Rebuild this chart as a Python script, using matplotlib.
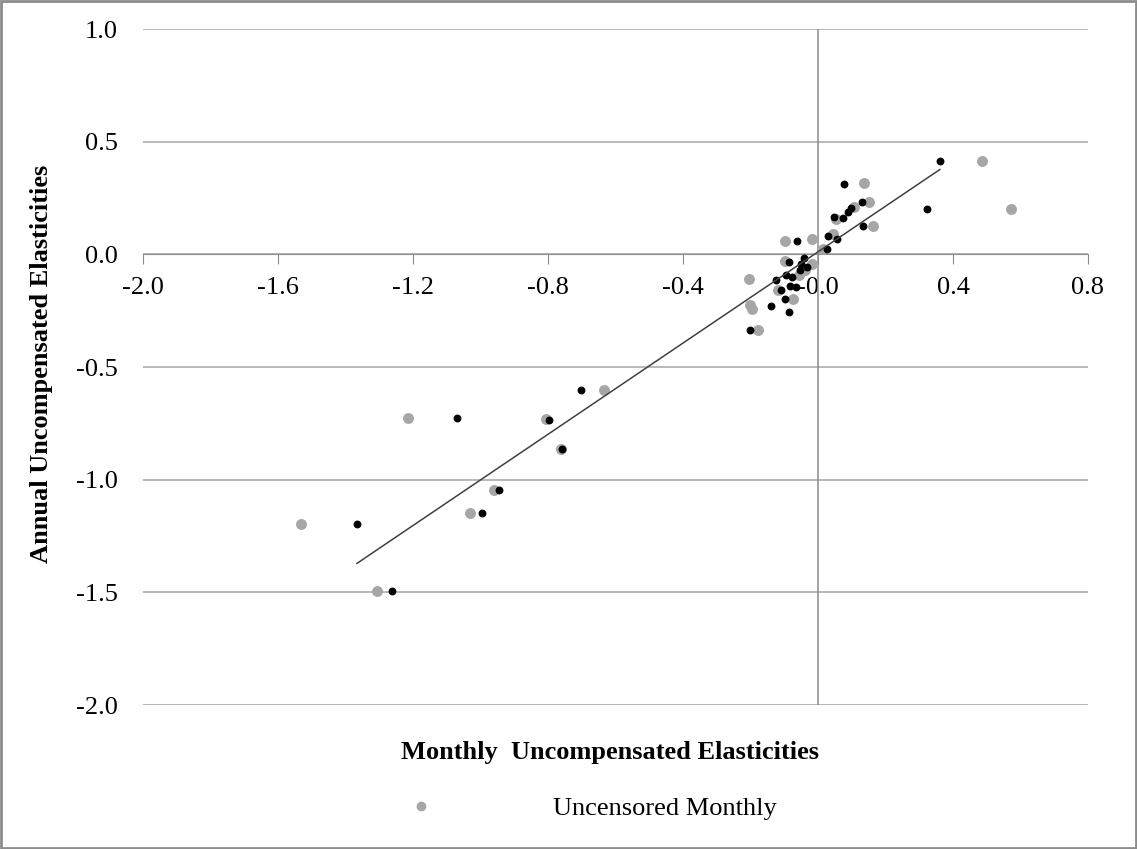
import numpy as np
import matplotlib
matplotlib.use("Agg")
import matplotlib.pyplot as plt
from matplotlib.patches import Rectangle

# censored monthly vs annual (black)
black_x = [0.361, 0.322, 0.077, 0.129, 0.097, 0.090, 0.073, 0.046, 0.132, 0.031,
           0.057, -0.061, 0.026, -0.041, -0.087, -0.050, -0.033, -0.053, -0.078,
           -0.095, -0.124, -0.083, -0.065, -0.110, -0.098, -0.139, -0.087, -0.201,
           -0.701, -1.070, -0.796, -0.759, -0.945, -0.995, -1.366, -1.263]
black_y = [0.414, 0.200, 0.314, 0.234, 0.207, 0.188, 0.160, 0.166, 0.126, 0.080,
           0.070, 0.059, 0.024, -0.015, -0.032, -0.043, -0.056, -0.071, -0.100,
           -0.092, -0.112, -0.141, -0.145, -0.157, -0.197, -0.231, -0.256, -0.334,
           -0.604, -0.728, -0.734, -0.864, -1.046, -1.148, -1.198, -1.494]

# uncensored monthly vs annual (gray)
gray_x = [0.486, 0.573, 0.137, 0.152, 0.107, 0.053, 0.164, 0.044, -0.019, -0.098,
          0.016, -0.098, -0.019, -0.039, -0.204, -0.055, -0.118, -0.073, -0.201,
          -0.196, -0.177, -0.634, -1.214, -0.806, -0.762, -0.960, -1.032, -1.533,
          -1.306]
gray_y = [0.414, 0.200, 0.317, 0.234, 0.210, 0.158, 0.126, 0.089, 0.070, 0.059,
          0.025, -0.030, -0.044, -0.071, -0.111, -0.093, -0.157, -0.200, -0.226,
          -0.241, -0.334, -0.604, -0.728, -0.732, -0.864, -1.046, -1.148, -1.198,
          -1.494]

plt.rcParams['font.family'] = ['Liberation Serif', 'DejaVu Serif']

fig = plt.figure(figsize=(11.37, 8.49), dpi=100)
ax = fig.add_axes([143/1137, 1-705/849, (1088-143)/1137, (705-29)/849])

ax.set_xlim(-2.0, 0.8)
ax.set_ylim(-2.0, 1.0)
ax.set_xticks(np.arange(-2.0, 0.81, 0.4))
ax.set_yticks(np.arange(-2.0, 1.01, 0.5))
ax.xaxis.set_major_formatter(matplotlib.ticker.FormatStrFormatter('%.1f'))
ax.yaxis.set_major_formatter(matplotlib.ticker.FormatStrFormatter('%.1f'))

ax.grid(True, axis='y', color='#a6a6a6', linewidth=1.1)
ax.set_axisbelow(True)
for s in ['top', 'right', 'left']:
    ax.spines[s].set_visible(False)
ax.spines['bottom'].set_position(('data', 0))
ax.spines['bottom'].set_color('#8c8c8c')
ax.axvline(0, color='#8c8c8c', linewidth=1.1, zorder=1)

ax.tick_params(axis='x', direction='out', length=7, color='#8c8c8c', pad=9, labelsize=19)
ax.tick_params(axis='y', length=0, pad=18, labelsize=19)

ax.scatter(gray_x, gray_y, s=62, color='#a6a6a6', linewidths=0, zorder=3)
ax.scatter(black_x, black_y, s=32, color='black', linewidths=0, zorder=4)

# linear trend of the black series
k, b = np.polyfit(black_x, black_y, 1)
xs = np.array([min(black_x), max(black_x)])
ax.plot(xs, k*xs + b, color='#404040', linewidth=1.1, zorder=5)

fig.text(610/1137, 1-752/849, 'Monthly  Uncompensated Elasticities', ha='center', va='center',
         fontsize=19, fontweight='bold')
fig.text(42/1137, 1-364/849, 'Annual Uncompensated Elasticities', ha='center', va='center',
         rotation=90, fontsize=19, fontweight='bold')

h = plt.Line2D([], [], marker='o', linestyle='none', color='#a6a6a6', markersize=6)
fig.legend([h], ['Uncensored Monthly'], loc='center left', bbox_to_anchor=(384/1137, 1-808/849),
           frameon=False, fontsize=19, handletextpad=4.0, borderpad=0.4, borderaxespad=0)

fig.patches.append(Rectangle((0.001, 0.001), 0.998, 0.998, transform=fig.transFigure,
                             fill=False, edgecolor='#8c8c8c', linewidth=2))

fig.savefig('out.png', dpi=100)
